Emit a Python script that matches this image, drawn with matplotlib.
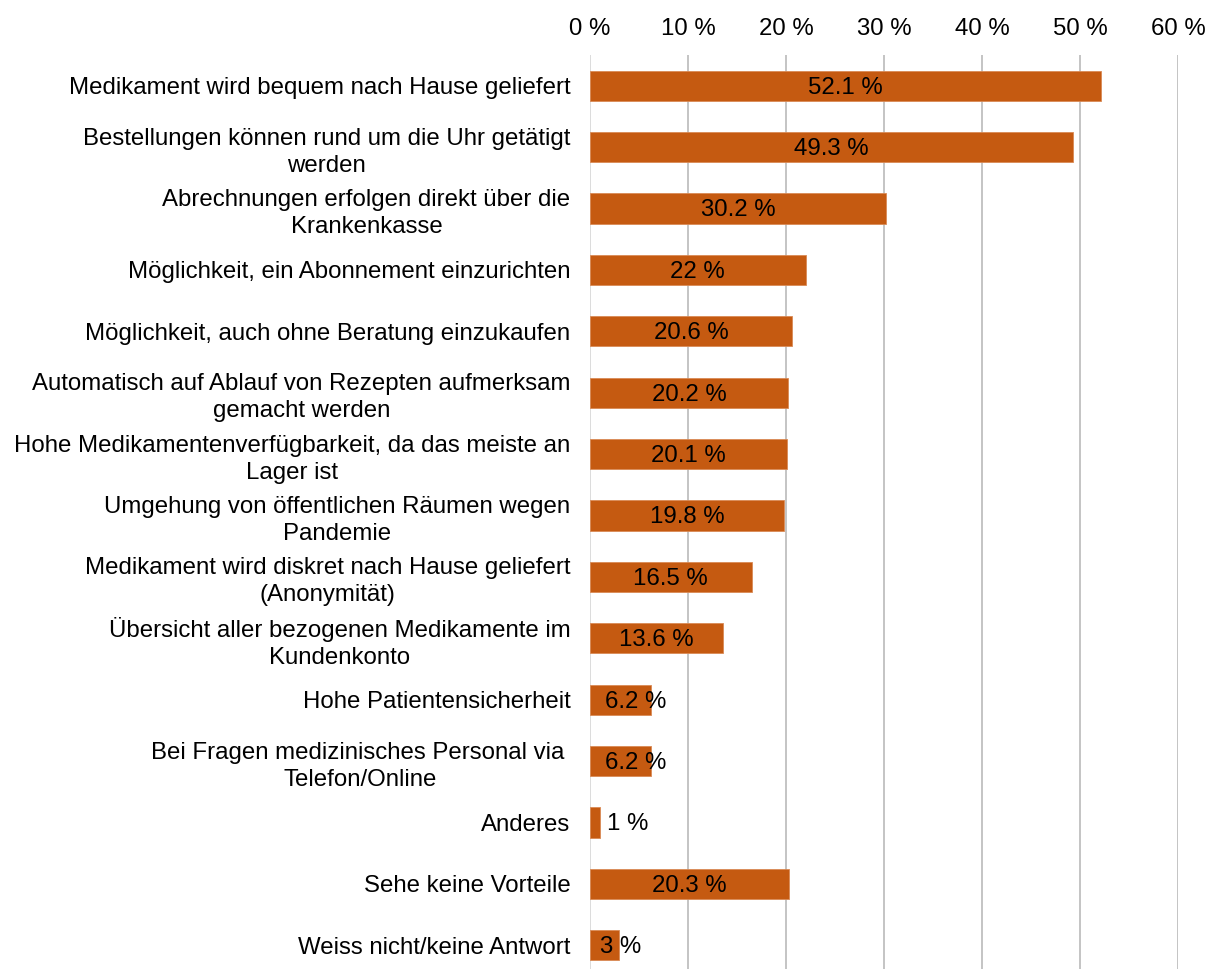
import matplotlib
matplotlib.use("Agg")
import matplotlib.pyplot as plt
from matplotlib.ticker import FuncFormatter

plt.rcParams["font.family"] = ["Liberation Sans", "DejaVu Sans"]

categories = [
    "Medikament wird bequem nach Hause geliefert",
    "Bestellungen können rund um die Uhr getätigt\nwerden",
    "Abrechnungen erfolgen direkt über die\nKrankenkasse",
    "Möglichkeit, ein Abonnement einzurichten",
    "Möglichkeit, auch ohne Beratung einzukaufen",
    "Automatisch auf Ablauf von Rezepten aufmerksam\ngemacht werden",
    "Hohe Medikamentenverfügbarkeit, da das meiste an\nLager ist",
    "Umgehung von öffentlichen Räumen wegen\nPandemie",
    "Medikament wird diskret nach Hause geliefert\n(Anonymität)",
    "Übersicht aller bezogenen Medikamente im\nKundenkonto",
    "Hohe Patientensicherheit",
    "Bei Fragen medizinisches Personal via \nTelefon/Online",
    "Anderes",
    "Sehe keine Vorteile",
    "Weiss nicht/keine Antwort",
]
values = [52.1, 49.3, 30.2, 22, 20.6, 20.2, 20.1, 19.8, 16.5, 13.6, 6.2, 6.2, 1, 20.3, 3]
value_labels = ["52.1 %", "49.3 %", "30.2 %", "22 %", "20.6 %", "20.2 %", "20.1 %",
                "19.8 %", "16.5 %", "13.6 %", "6.2 %", "6.2 %", "1 %", "20.3 %", "3 %"]
x_ticks = [0, 10, 20, 30, 40, 50, 60]

bar_color = "#C55A11"
fs = 17.3

fig = plt.figure(figsize=(12.08, 9.69), dpi=100)
ax = fig.add_axes([590 / 1208, -7 / 969, 588 / 1208, 921 / 969])

pos = list(range(len(categories)))
ax.barh(pos, values, height=0.49, color=bar_color, edgecolor="#D98A55", linewidth=0.6, zorder=3)

# Excel-style label placement: centred, nudged right / outside for tiny bars
for i, (v, lab) in enumerate(zip(values, value_labels)):
    if v < 2:
        ax.text(v + 0.7, i + 0.03, lab, ha="left", va="center", fontsize=fs, color="black", zorder=4)
    elif v < 10:
        ax.text(v / 2 + 1.6, i + 0.03, lab, ha="center", va="center", fontsize=fs, color="black", zorder=4)
    else:
        ax.text(v / 2, i + 0.03, lab, ha="center", va="center", fontsize=fs, color="black", zorder=4)

ax.set_xlim(0, 60)
ax.set_ylim(len(categories) - 0.5, -0.5)
ax.set_xticks(x_ticks)
ax.xaxis.set_major_formatter(FuncFormatter(lambda x, p: f"{int(x)} %"))
ax.xaxis.tick_top()
ax.tick_params(axis="x", length=0, pad=11, labelsize=fs)
ax.set_yticks(pos)
ax.set_yticklabels(categories)
ax.tick_params(axis="y", length=0, pad=14, labelsize=fs)
for lbl in ax.get_yticklabels():
    lbl.set_multialignment("center")
    lbl.set_linespacing(1.3)

for x in x_ticks:
    ax.axvline(x, color="#D9D9D9" if x == 0 else "#BFBFBF", linewidth=1.3, zorder=1)

for s in ax.spines.values():
    s.set_visible(False)

plt.savefig("out.png", dpi=100)
plt.close()
